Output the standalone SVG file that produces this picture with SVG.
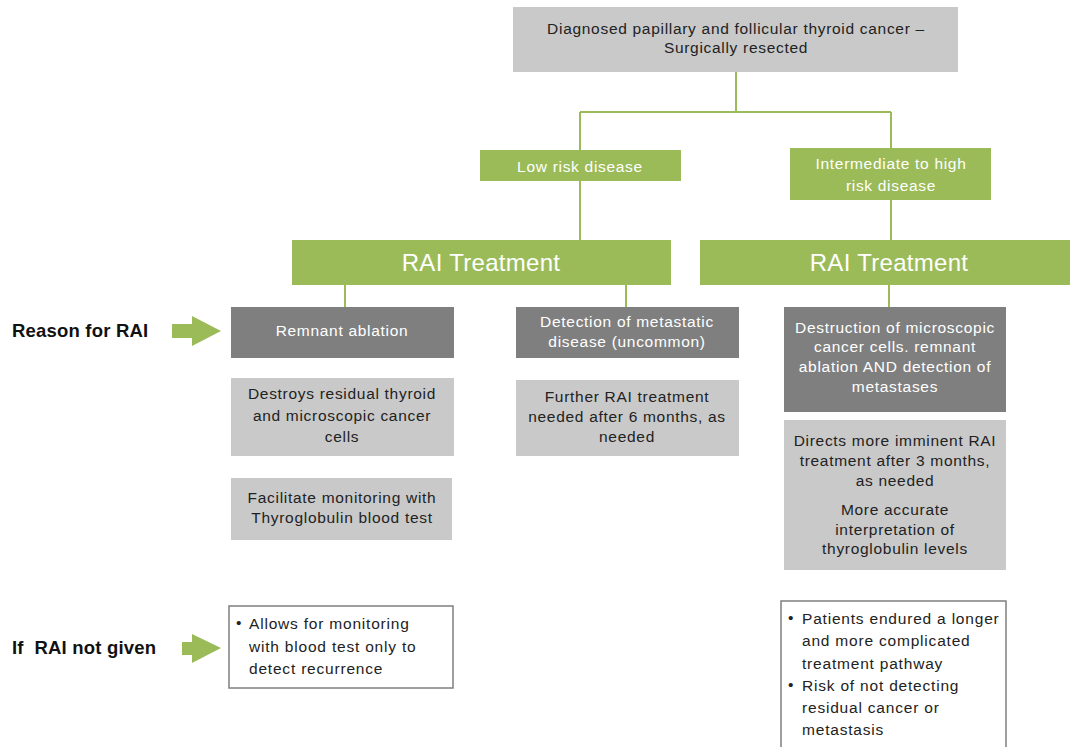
<svg xmlns="http://www.w3.org/2000/svg" width="1074" height="747" viewBox="0 0 1074 747">
<style>
text{font-family:"Liberation Sans",Arial,sans-serif;font-size:15.5px;letter-spacing:0.7px;text-anchor:middle;fill:#222}
.lg{fill:#c9c9c9}
.dg{fill:#7f7f7f}
.gr{fill:#9bbb59}
.wt{fill:#fff}
.big{font-size:24px;letter-spacing:0.3px;fill:#fff}
.lbl{font-size:18.5px;letter-spacing:0.2px;font-weight:bold;text-anchor:start;fill:#111;white-space:pre}
.bul{text-anchor:start;letter-spacing:0.8px}
.conn line{stroke:#9bbb59;stroke-width:2}
.arr{fill:#9bbb59}
.box{fill:#fff;stroke:#7f7f7f;stroke-width:1.5}
</style>
<rect width="1074" height="747" fill="#fff"/>
<g id="connectors" class="conn">
<line x1="736" y1="72" x2="736" y2="112"/>
<line x1="580" y1="112" x2="891" y2="112"/>
<line x1="580" y1="112" x2="580" y2="150"/>
<line x1="891" y1="112" x2="891" y2="148"/>
<line x1="580" y1="181" x2="580" y2="240"/>
<line x1="891" y1="200" x2="891" y2="240"/>
<line x1="345" y1="285" x2="345" y2="307"/>
<line x1="626" y1="285" x2="626" y2="307"/>
<line x1="889" y1="285" x2="889" y2="307"/>
</g>
<g id="top">
<rect class="lg" x="513" y="7" width="445" height="65"/>
<text x="736" y="34">Diagnosed papillary and follicular thyroid cancer –</text>
<text x="736" y="53">Surgically resected</text>
</g>
<g id="low">
<rect class="gr" x="480" y="150" width="201" height="31"/>
<text class="wt" x="580" y="172">Low risk disease</text>
</g>
<g id="inter">
<rect class="gr" x="790" y="148" width="201" height="52"/>
<text class="wt" x="891" y="169">Intermediate to high</text>
<text class="wt" x="891" y="191">risk disease</text>
</g>
<g id="rai-left">
<rect class="gr" x="292" y="240" width="379" height="45"/>
<text class="big" x="481" y="271">RAI Treatment</text>
</g>
<g id="rai-right">
<rect class="gr" x="700" y="240" width="370" height="45"/>
<text class="big" x="889" y="271">RAI Treatment</text>
</g>
<g id="remnant">
<rect class="dg" x="231" y="307" width="223" height="51"/>
<text class="wt" x="342" y="336">Remnant ablation</text>
</g>
<g id="detection">
<rect class="dg" x="516" y="307" width="223" height="51"/>
<text class="wt" x="627" y="327">Detection of metastatic</text>
<text class="wt" x="627" y="347">disease (uncommon)</text>
</g>
<g id="destruction">
<rect class="dg" x="784" y="307" width="222" height="105"/>
<text class="wt" x="895" y="333">Destruction of microscopic</text>
<text class="wt" x="895" y="352">cancer cells. remnant</text>
<text class="wt" x="895" y="372">ablation AND detection of</text>
<text class="wt" x="895" y="392">metastases</text>
</g>
<g id="destroys">
<rect class="lg" x="231" y="378" width="223" height="78"/>
<text x="342" y="399">Destroys residual thyroid</text>
<text x="342" y="421">and microscopic cancer</text>
<text x="342" y="442">cells</text>
</g>
<g id="further">
<rect class="lg" x="516" y="380" width="223" height="76"/>
<text x="627" y="402">Further RAI treatment</text>
<text x="627" y="422">needed after 6 months, as</text>
<text x="627" y="442">needed</text>
</g>
<g id="directs">
<rect class="lg" x="784" y="420" width="222" height="150"/>
<text x="895" y="446">Directs more imminent RAI</text>
<text x="895" y="466">treatment after 3 months,</text>
<text x="895" y="486">as needed</text>
<text x="895" y="515">More accurate</text>
<text x="895" y="535">interpretation of</text>
<text x="895" y="554">thyroglobulin levels</text>
</g>
<g id="facilitate">
<rect class="lg" x="231" y="478" width="221" height="62"/>
<text x="342" y="503">Facilitate monitoring with</text>
<text x="342" y="523">Thyroglobulin blood test</text>
</g>
<g id="reason-label">
<text class="lbl" x="12" y="337">Reason for RAI</text>
<polygon class="arr" points="172,324 192,324 192,316 221,331 192,346 192,338 172,338"/>
</g>
<g id="notgiven-label">
<text class="lbl" x="12" y="654">If  RAI not given</text>
<polygon class="arr" points="182,642 192,642 192,634 221,648 192,663 192,655 182,655"/>
</g>
<g id="allows">
<rect class="box" x="229" y="606" width="224" height="82"/>
<text class="bul" x="236" y="628">•</text>
<text class="bul" x="249" y="629">Allows for monitoring</text>
<text class="bul" x="249" y="652">with blood test only to</text>
<text class="bul" x="249" y="674">detect recurrence</text>
</g>
<g id="patients">
<rect class="box" x="781" y="601" width="225" height="150"/>
<text class="bul" x="788" y="623">•</text>
<text class="bul" x="802" y="624">Patients endured a longer</text>
<text class="bul" x="802" y="646">and more complicated</text>
<text class="bul" x="802" y="669">treatment pathway</text>
<text class="bul" x="788" y="690">•</text>
<text class="bul" x="802" y="691">Risk of not detecting</text>
<text class="bul" x="802" y="713">residual cancer or</text>
<text class="bul" x="802" y="735">metastasis</text>
</g>
</svg>
